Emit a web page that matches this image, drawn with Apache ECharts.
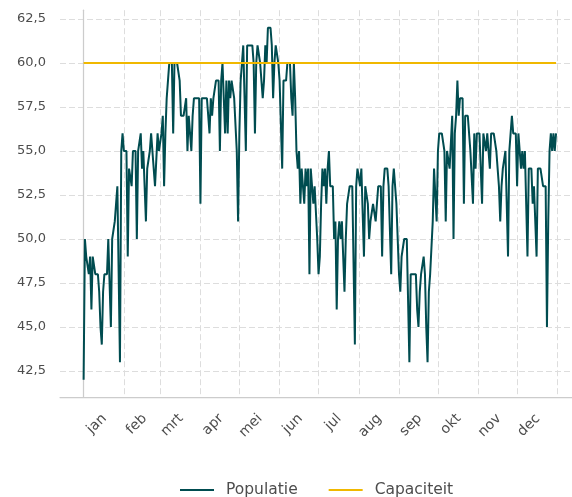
<!DOCTYPE html>
<html>
<head>
<meta charset="utf-8">
<script src="https://cdn.jsdelivr.net/npm/echarts@6/dist/echarts.min.js"></script>
<style>
  html, body { margin: 0; padding: 0; background: #fff; }
  #chart { width: 572px; height: 497px; }
</style>
</head>
<body>
<div id="chart"></div>
<script>
// maandnamen en lengtes
var maanden = ['jan', 'feb', 'mrt', 'apr', 'mei', 'jun', 'jul', 'aug', 'sep', 'okt', 'nov', 'dec'];
var maandDagen = [31, 28, 31, 30, 31, 30, 31, 31, 30, 31, 30, 31];

// populatie per dag, per maand
var jan = [42, 50, 49, 49, 48, 49, 46, 49, 49, 48, 48, 48, 47, 45, 44, 47, 48, 48, 48, 50, 50, 45, 50, 50, 51, 52, 53, 53, 43, 55, 56];
var feb = [55, 55, 55, 49, 54, 54, 53, 55, 55, 55, 50, 55, 55, 56, 54, 55, 55, 51, 54, 54, 55, 56, 55, 55, 53, 53, 56, 55];
var mrt = [55, 56, 57, 53, 56, 58, 59, 60, 60, 60, 56, 60, 60, 60, 60, 59, 57, 57, 57, 57, 58, 55, 57, 57, 55, 57, 58, 58, 58, 58, 58];
var apr = [52, 58, 58, 58, 58, 58, 57, 56, 58, 57, 58, 58, 59, 59, 59, 55, 59, 60, 58, 56, 59, 56, 59, 58, 59, 59, 58, 58, 55, 51];
var mei = [56, 59, 60, 61, 61, 55, 61, 61, 61, 61, 61, 60, 56, 60, 61, 61, 60, 59, 58, 59, 61, 60, 62, 62, 62, 61, 58, 60, 61, 61, 60];
var jun = [59, 59, 54, 59, 59, 59, 60, 60, 60, 58, 57, 60, 58, 55, 54, 55, 52, 54, 54, 52, 54, 53, 54, 48, 54, 54, 52, 53, 53, 50];
var jul = [48, 49, 52, 54, 53, 54, 52, 54, 55, 53, 53, 53, 50, 51, 46, 50, 51, 50, 51, 51, 47, 50, 52, 52, 53, 53, 53, 53, 44, 53, 54];
var aug = [54, 53, 54, 54, 49, 53, 53, 52, 50, 51, 51, 52, 52, 51, 52, 53, 53, 53, 49, 53, 54, 54, 54, 53, 53, 48, 53, 54, 54, 52, 50];
var sep = [48, 47, 49, 49, 50, 50, 50, 50, 43, 48, 48, 48, 48, 48, 46, 45, 47, 48, 48, 49, 48, 45, 43, 47, 48, 48, 51, 54, 54, 51];
var okt = [55, 56, 56, 56, 56, 55, 51, 55, 55, 54, 54, 57, 50, 56, 57, 59, 57, 58, 58, 58, 52, 57, 57, 57, 57, 55, 55, 52, 56, 54, 56];
var nov = [56, 56, 56, 52, 56, 56, 55, 56, 56, 54, 56, 56, 56, 56, 55, 54, 53, 51, 53, 54, 54, 55, 55, 49, 55, 56, 57, 56, 56, 56];
var dec = [53, 56, 56, 54, 55, 54, 55, 55, 49, 54, 54, 54, 52, 53, 53, 49, 54, 54, 54, 54, 53, 53, 53, 45, 51, 55, 56, 55, 56, 55, 56];

var capaciteit = 60;

// y-as ticks
var yTicks = [42.5, 45, 47.5, 50, 52.5, 55, 57.5, 60, 62.5];

var populatie = [].concat(jan, feb, mrt, apr, mei, jun, jul, aug, sep, okt, nov, dec);

// begin van elke maand (dagindex) en positie van de labels
var maandStart = [0];
for (var i = 0; i < maandDagen.length; i++) {
    maandStart.push(maandStart[i] + maandDagen[i]);
}
var labelPos = maandStart.slice(0, 12).map(function (d) { return d + 16; });

var popData = populatie.map(function (v, i) { return [i, v]; });
var capData = populatie.map(function (v, i) { return [i, capaciteit]; });

var tekst = '#4d4d4d';
var font = 'DejaVu Sans';
var gridKleur = '#dddddd';

var chart = echarts.init(document.getElementById('chart'));
var option = {
    animation: false,
    textStyle: { fontFamily: font },
    grid: {
        left: 60,
        right: 0,
        top: 10.2,
        bottom: 99.6
    },
    xAxis: [
        {
            // maandgrenzen: alleen rasterlijnen
            type: 'value',
            min: -18.2,
            max: 376.3,
            axisLine: { show: true, lineStyle: { color: '#cccccc', width: 1.25 } },
            axisTick: { show: false, customValues: maandStart },
            axisLabel: { show: false, customValues: maandStart },
            splitLine: { show: true, lineStyle: { color: gridKleur, type: [6, 3], width: 1 } }
        },
        {
            // maandlabels
            type: 'value',
            position: 'bottom',
            min: -18.2,
            max: 376.3,
            axisLine: { show: false },
            axisTick: { show: false, customValues: labelPos },
            splitLine: { show: false },
            axisLabel: {
                customValues: labelPos,
                rotate: 45,
                margin: 19,
                color: tekst,
                fontSize: 14,
                fontFamily: font,
                formatter: function (v) {
                    for (var k = 0; k < 12; k++) {
                        if (labelPos[k] === v) return maanden[k];
                    }
                    return '';
                }
            }
        }
    ],
    yAxis: {
        type: 'value',
        min: 41,
        max: 63,
        axisLine: { show: true, lineStyle: { color: '#cccccc', width: 1.25 } },
        axisTick: { show: false, customValues: yTicks },
        splitLine: { show: true, lineStyle: { color: gridKleur, type: [6, 3], width: 1 } },
        axisLabel: {
            customValues: yTicks,
            margin: 14,
            color: tekst,
            fontSize: 13,
            fontFamily: font,
            formatter: function (v) { return v.toFixed(1).replace('.', ','); }
        }
    },
    legend: {
        bottom: -1,
        left: 180,
        icon: 'rect',
        itemWidth: 34,
        itemHeight: 2,
        itemGap: 31,
        padding: 0,
        textStyle: { color: tekst, fontSize: 15.5, fontFamily: font, padding: [0, 0, 0, 7] },
        data: ['Populatie', 'Capaciteit']
    },
    series: [
        {
            name: 'Populatie',
            type: 'line',
            data: popData,
            showSymbol: false,
            symbol: 'none',
            lineStyle: { color: '#004c50', width: 2 },
            itemStyle: { color: '#004c50' },
            z: 2
        },
        {
            name: 'Capaciteit',
            type: 'line',
            data: capData,
            showSymbol: false,
            symbol: 'none',
            lineStyle: { color: '#f0b800', width: 2 },
            itemStyle: { color: '#f0b800' },
            z: 3
        }
    ]
};
chart.setOption(option);
</script>
</body>
</html>
